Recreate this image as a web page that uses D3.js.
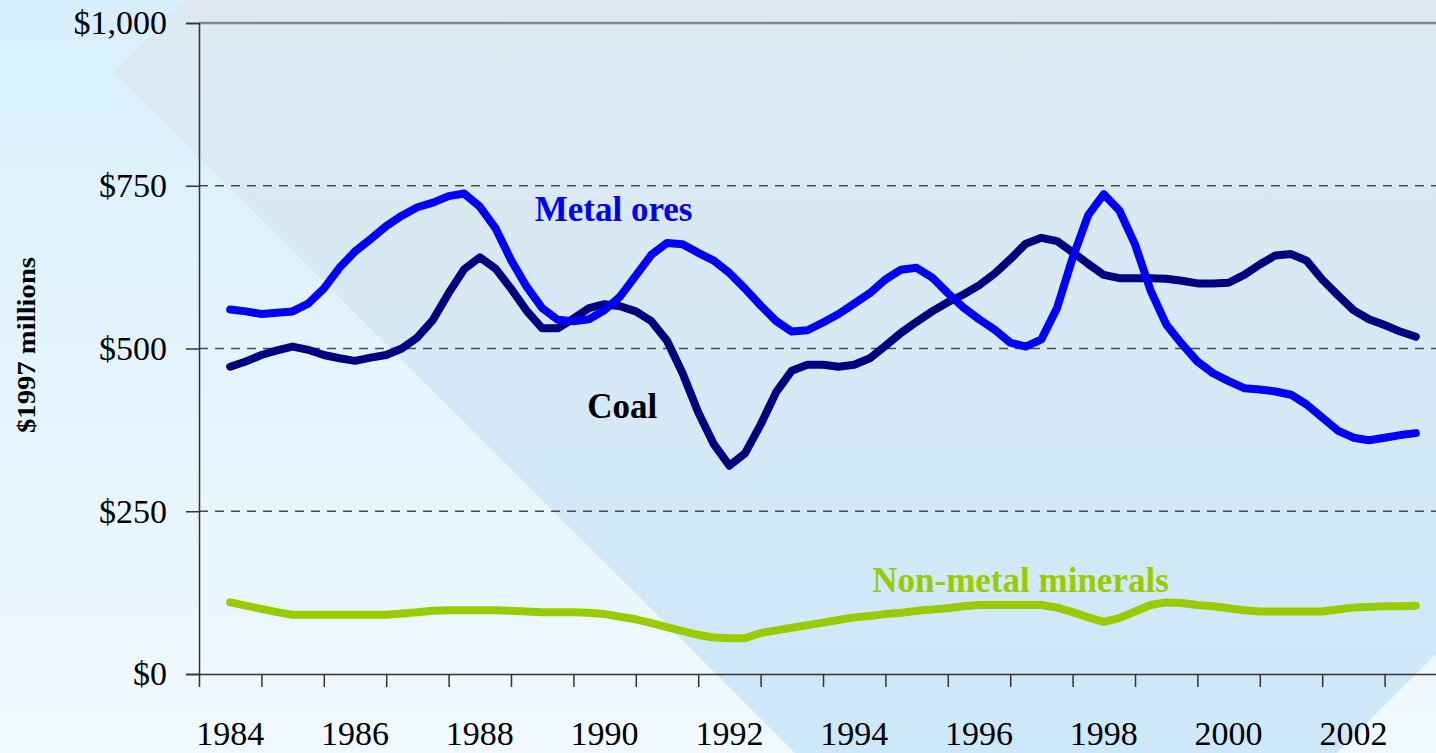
<!DOCTYPE html>
<html>
<head>
<meta charset="utf-8">
<script src="https://cdn.jsdelivr.net/npm/d3@7"></script>
<style>
  html, body { margin: 0; padding: 0; overflow: hidden; background: #e6f4fd; }
  svg { display: block; font-family: "Liberation Serif", "DejaVu Serif", serif; }
</style>
</head>
<body>
<div id="chart"></div>
<script>

// quarterly values, first point = 1984, last = 2003 ($1997 millions)
var metalOres = [560,557,553,555,557,569,592,624,649,668,
                 688,704,717,724,734,738,718,685,636,595,
                 562,544,542,545,559,580,612,644,662,660,
                 647,635,616,592,566,542,526,528,540,553,
                 569,585,606,621,624,609,585,563,545,529,
                 509,503,514,562,639,705,737,712,660,589,
                 537,507,480,462,450,439,437,434,429,414,
                 394,374,363,359,363,367,370];

var coal = [472,480,490,497,503,498,490,485,481,486,
            490,500,517,544,585,622,640,623,592,558,
            531,531,546,562,568,565,557,542,512,462,
            402,353,320,339,383,433,466,475,475,472,
            475,485,504,524,541,557,571,583,597,615,
            637,661,670,665,648,630,613,608,608,608,
            607,604,600,600,601,613,629,643,645,635,
            606,582,559,545,536,526,518];

var nonMetal = [110,105,100,95,91,91,91,91,91,91,
                91,93,95,97,98,98,98,98,97,96,
                95,95,95,94,92,88,84,78,72,66,
                60,56,55,55,63,67,71,75,79,83,
                87,89,92,94,97,99,101,104,106,106,
                106,106,106,102,95,87,80,86,96,106,
                110,109,106,104,101,98,96,96,96,96,
                96,99,102,103,104,104,105];

var yearLabels = [1984, 1986, 1988, 1990, 1992, 1994, 1996, 1998, 2000, 2002];
var yTicks = [0, 250, 500, 750, 1000];
var gridValues = [250, 500, 750];

var W = 1436, H = 753;
var plotLeft = 199, plotTop = 23, plotBottom = 674, plotRight = 1447;

var x = d3.scaleLinear()
    .domain([1983.5, 2003.5])
    .range([plotLeft, plotRight]);

var y = d3.scaleLinear()
    .domain([0, 1000])
    .range([plotBottom, plotTop]);

function toPoints(arr) {
  return arr.map(function(v, i) { return {t: 1984 + i / 4, val: v}; });
}

var line = d3.line()
    .x(function(d) { return x(d.t); })
    .y(function(d) { return y(d.val); })
    .curve(d3.curveLinear);

var svg = d3.select("#chart").append("svg")
    .attr("width", W)
    .attr("height", H);

// background
var defs = svg.append("defs");
var bg = defs.append("linearGradient").attr("id", "bg")
    .attr("x1", 0).attr("y1", 0).attr("x2", 0).attr("y2", 1);
bg.append("stop").attr("offset", "0%").attr("stop-color", "#d8effd");
bg.append("stop").attr("offset", "100%").attr("stop-color", "#f0f9fe");

var band = defs.append("linearGradient").attr("id", "band")
    .attr("x1", 0).attr("y1", 0).attr("x2", 0).attr("y2", 1);
band.append("stop").attr("offset", "0%").attr("stop-color", "#dee9f1");
band.append("stop").attr("offset", "100%").attr("stop-color", "#cde8fa");

svg.append("rect")
    .attr("width", W).attr("height", H)
    .attr("fill", "url(#bg)");

svg.append("polygon")
    .attr("points", "186,0 114,72 795,753 1337,753 1436,654 1436,0")
    .attr("fill", "url(#band)");

// dashed grid
svg.selectAll(".grid")
    .data(gridValues)
  .enter().append("line")
    .attr("class", "grid")
    .attr("x1", plotLeft).attr("x2", plotRight)
    .attr("y1", function(d) { return y(d); })
    .attr("y2", function(d) { return y(d); })
    .attr("stroke", "#4a4a4a")
    .attr("stroke-width", 1.3)
    .attr("stroke-dasharray", "9,7");

// top border
svg.append("line")
    .attr("x1", plotLeft).attr("x2", plotRight)
    .attr("y1", y(1000)).attr("y2", y(1000))
    .attr("stroke", "#888")
    .attr("stroke-width", 2.5);

// y axis
var yAxis = d3.axisLeft(y)
    .tickValues(yTicks)
    .tickFormat(function(d) { return "$" + d3.format(",")(d); })
    .tickSize(13)
    .tickPadding(19);

var gy = svg.append("g")
    .attr("transform", "translate(" + plotLeft + ",0)")
    .call(yAxis);
gy.select(".domain").attr("stroke", "#333").attr("stroke-width", 1.5);
gy.selectAll(".tick line").attr("stroke", "#333").attr("stroke-width", 1.5);
gy.selectAll("text")
    .attr("font-family", "Liberation Serif, serif")
    .attr("font-size", 34)
    .attr("fill", "#000");

// x axis: tick marks at year boundaries, labels every two years
var xTicks = d3.axisBottom(x)
    .tickValues(d3.range(1983.5, 2004, 1))
    .tickFormat("")
    .tickSize(13)
    .tickSizeOuter(0);

var gx = svg.append("g")
    .attr("transform", "translate(0," + plotBottom + ")")
    .call(xTicks);
gx.select(".domain").attr("stroke", "#333").attr("stroke-width", 1.5);
gx.selectAll(".tick line").attr("stroke", "#333").attr("stroke-width", 1.5);

svg.selectAll(".year")
    .data(yearLabels)
  .enter().append("text")
    .attr("class", "year")
    .attr("x", function(d) { return x(d); })
    .attr("y", 745)
    .attr("text-anchor", "middle")
    .attr("font-size", 34)
    .attr("fill", "#000")
    .text(function(d) { return d; });

// axis title
svg.append("text")
    .attr("transform", "translate(35,345) rotate(-90)")
    .attr("text-anchor", "middle")
    .attr("font-size", 26)
    .attr("font-weight", "bold")
    .attr("textLength", 176)
    .attr("lengthAdjust", "spacingAndGlyphs")
    .attr("fill", "#000")
    .text("$1997 millions");

// series
var series = [
  {name: "Non-metal minerals", values: nonMetal, color: "#99cc00", lx: 1994.29, ly: 126},
  {name: "Coal", values: coal, color: "#000080", lx: 1989.72, ly: 393},
  {name: "Metal ores", values: metalOres, color: "#0000ff", lx: 1988.88, ly: 696}
];

series.forEach(function(s) {
  svg.append("path")
    .datum(toPoints(s.values))
    .attr("d", line)
    .attr("fill", "none")
    .attr("stroke", s.color)
    .attr("stroke-width", 8)
    .attr("stroke-linejoin", "round")
    .attr("stroke-linecap", "round");
});

series.forEach(function(s) {
  svg.append("text")
    .attr("x", x(s.lx))
    .attr("y", y(s.ly))
    .attr("font-size", 35)
    .attr("font-weight", "bold")
    .attr("fill", s.name == "Coal" ? "#000" : s.color)
    .text(s.name);
});

</script>
</body>
</html>
